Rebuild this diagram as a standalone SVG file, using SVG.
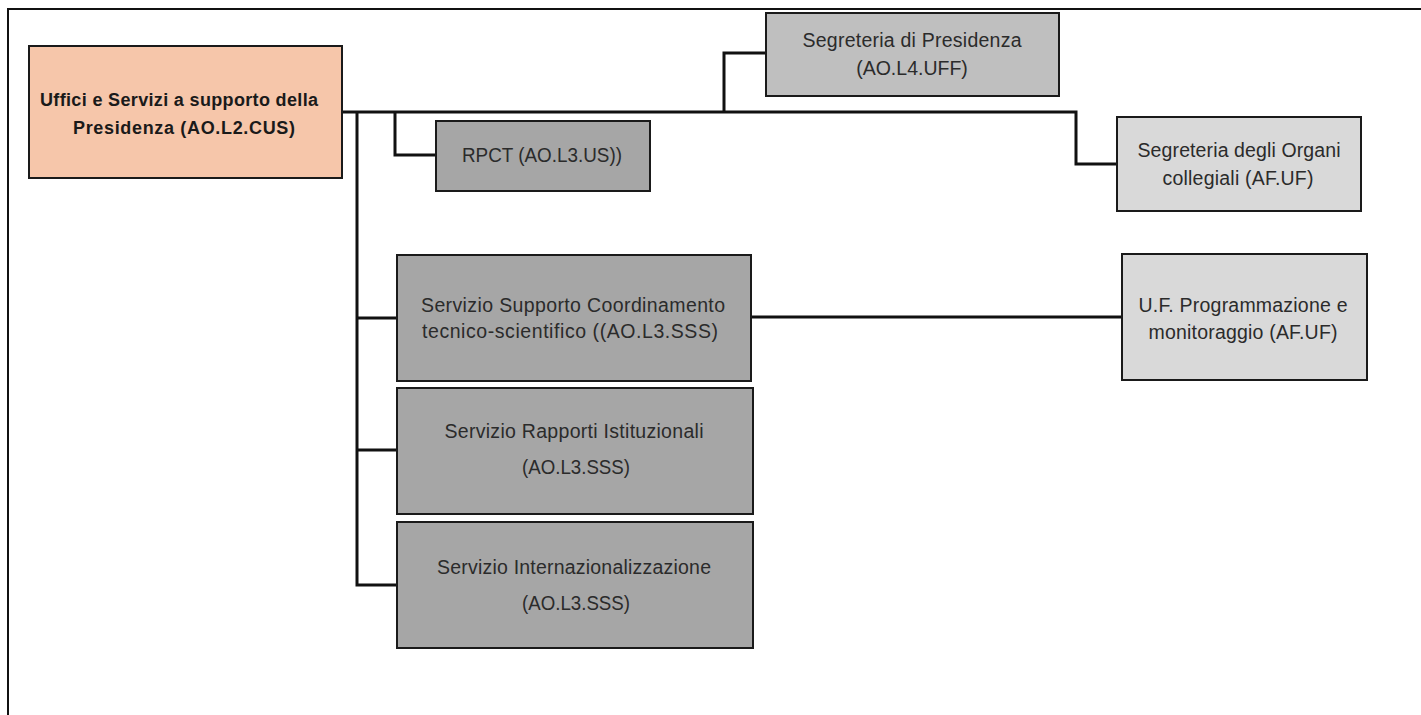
<svg xmlns="http://www.w3.org/2000/svg" width="1421" height="715" viewBox="0 0 1421 715">
<style>
  .box { stroke: #1a1a1a; stroke-width: 2; }
  .peach { fill: #F6C6AA; }
  .dark { fill: #A6A6A6; }
  .mid { fill: #BFBFBF; }
  .light { fill: #D9D9D9; }
  .t { font-family: "Liberation Sans", Arial, sans-serif; font-size: 19.5px; fill: #2b2b2b; text-anchor: middle; }
  .tb { font-family: "Liberation Sans", Arial, sans-serif; font-size: 18px; font-weight: bold; fill: #1a1a1a; text-anchor: middle; }
  .conn { fill: none; stroke: #111; stroke-width: 3; stroke-linejoin: miter; }
  .frame { fill: none; stroke: #111; stroke-width: 2; }
</style>
<rect x="0" y="0" width="1421" height="715" fill="#ffffff"/>
<path class="frame" d="M8,715 V9 H1421"/>

<g id="connectors">
  <path class="conn" d="M342,112 H1076 V164 H1117"/>
  <path class="conn" d="M357,112 V585 H397"/>
  <path class="conn" d="M357,318 H397"/>
  <path class="conn" d="M357,450 H397"/>
  <path class="conn" d="M395,112 V155 H436"/>
  <path class="conn" d="M724,112 V53 H766"/>
  <path class="conn" d="M751,317 H1122"/>
</g>

<g id="node-main">
  <rect class="box peach" x="29" y="46" width="313" height="132"/>
  <text class="tb" x="179" y="106" textLength="278" lengthAdjust="spacing">Uffici e Servizi a supporto della</text>
  <text class="tb" x="184" y="134" textLength="222" lengthAdjust="spacing">Presidenza (AO.L2.CUS)</text>
</g>

<g id="node-rpct">
  <rect class="box dark" x="436" y="121" width="214" height="70"/>
  <text class="t" x="542" y="162" textLength="160" lengthAdjust="spacingAndGlyphs">RPCT (AO.L3.US))</text>
</g>

<g id="node-segreteria-presidenza">
  <rect class="box mid" x="766" y="13" width="293" height="83"/>
  <text class="t" x="912" y="47" textLength="219" lengthAdjust="spacing">Segreteria di Presidenza</text>
  <text class="t" x="912" y="75">(AO.L4.UFF)</text>
</g>

<g id="node-segreteria-organi">
  <rect class="box light" x="1117" y="117" width="244" height="94"/>
  <text class="t" x="1239" y="157" textLength="203" lengthAdjust="spacing">Segreteria degli Organi</text>
  <text class="t" x="1238" y="185" textLength="151" lengthAdjust="spacing">collegiali (AF.UF)</text>
</g>

<g id="node-supporto">
  <rect class="box dark" x="397" y="255" width="354" height="126"/>
  <text class="t" x="573" y="312" textLength="304" lengthAdjust="spacing">Servizio Supporto Coordinamento</text>
  <text class="t" x="570" y="338" textLength="296" lengthAdjust="spacing">tecnico-scientifico ((AO.L3.SSS)</text>
</g>

<g id="node-uf">
  <rect class="box light" x="1122" y="254" width="245" height="126"/>
  <text class="t" x="1243" y="312" textLength="209" lengthAdjust="spacing">U.F. Programmazione e</text>
  <text class="t" x="1243" y="339" textLength="189" lengthAdjust="spacing">monitoraggio (AF.UF)</text>
</g>

<g id="node-rapporti">
  <rect class="box dark" x="397" y="388" width="356" height="126"/>
  <text class="t" x="574" y="438" textLength="259" lengthAdjust="spacing">Servizio Rapporti Istituzionali</text>
  <text class="t" x="576" y="474" textLength="108" lengthAdjust="spacingAndGlyphs">(AO.L3.SSS)</text>
</g>

<g id="node-internazionalizzazione">
  <rect class="box dark" x="397" y="522" width="356" height="126"/>
  <text class="t" x="574" y="574" textLength="274" lengthAdjust="spacing">Servizio Internazionalizzazione</text>
  <text class="t" x="576" y="610" textLength="108" lengthAdjust="spacingAndGlyphs">(AO.L3.SSS)</text>
</g>
</svg>
